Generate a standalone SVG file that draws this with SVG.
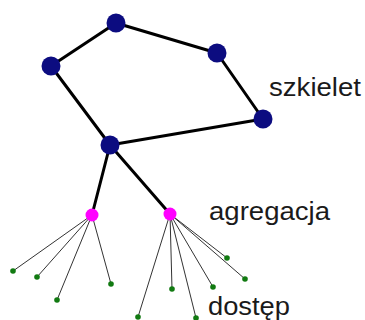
<svg xmlns="http://www.w3.org/2000/svg" width="365" height="320" viewBox="0 0 365 320">
<style>
.bb{stroke:#000;stroke-width:3;fill:none;stroke-linecap:round}
.lf{stroke:#333;stroke-width:1;fill:none}
.core{fill:#0c0c80}
.agg{fill:#ff00ff}
.acc{fill:#117a11}
.lbl{font-family:"Liberation Sans",Arial,sans-serif;font-size:26px;fill:#1a1a1a}
</style>
<rect width="365" height="320" fill="#fff"/>
<g id="connectors">
<line class="bb" x1="116" y1="23" x2="51" y2="66"/>
<line class="bb" x1="116" y1="23" x2="217" y2="53"/>
<line class="bb" x1="217" y1="53" x2="263" y2="119"/>
<line class="bb" x1="51" y1="66" x2="110" y2="145"/>
<line class="bb" x1="263" y1="119" x2="110" y2="145"/>
<line class="bb" x1="110" y1="145" x2="92" y2="215"/>
<line class="bb" x1="110" y1="145" x2="170" y2="214"/>
<line class="lf" x1="92" y1="215" x2="13" y2="271"/>
<line class="lf" x1="92" y1="215" x2="37" y2="277"/>
<line class="lf" x1="92" y1="215" x2="57" y2="300"/>
<line class="lf" x1="92" y1="215" x2="111" y2="284"/>
<line class="lf" x1="170" y1="214" x2="138" y2="317"/>
<line class="lf" x1="170" y1="214" x2="172" y2="289"/>
<line class="lf" x1="170" y1="214" x2="196" y2="318"/>
<line class="lf" x1="170" y1="214" x2="213" y2="287"/>
<line class="lf" x1="170" y1="214" x2="227" y2="258"/>
<line class="lf" x1="170" y1="214" x2="245" y2="279"/>
</g>
<g id="n1"><circle class="core" cx="116" cy="23" r="9.5"/></g>
<g id="n2"><circle class="core" cx="51" cy="66" r="9.5"/></g>
<g id="n3"><circle class="core" cx="217" cy="53" r="9.5"/></g>
<g id="n4"><circle class="core" cx="263" cy="119" r="9.5"/></g>
<g id="n5"><circle class="core" cx="110" cy="145" r="9.5"/></g>
<g id="a1"><circle class="agg" cx="92" cy="215" r="6.5"/></g>
<g id="a2"><circle class="agg" cx="170" cy="214" r="6.5"/></g>
<g id="leaves">
<circle class="acc" cx="13" cy="271" r="2.8"/>
<circle class="acc" cx="37" cy="277" r="2.8"/>
<circle class="acc" cx="57" cy="300" r="2.8"/>
<circle class="acc" cx="111" cy="284" r="2.8"/>
<circle class="acc" cx="138" cy="317" r="2.8"/>
<circle class="acc" cx="172" cy="289" r="2.8"/>
<circle class="acc" cx="196" cy="318" r="2.8"/>
<circle class="acc" cx="213" cy="287" r="2.8"/>
<circle class="acc" cx="227" cy="258" r="2.8"/>
<circle class="acc" cx="245" cy="279" r="2.8"/>
</g>
<g id="labels">
<text class="lbl" x="269" y="96" textLength="92" lengthAdjust="spacingAndGlyphs">szkielet</text>
<text class="lbl" x="209" y="220" textLength="121" lengthAdjust="spacingAndGlyphs">agregacja</text>
<text class="lbl" x="208" y="315" textLength="82" lengthAdjust="spacingAndGlyphs">dostęp</text>
</g>
</svg>
